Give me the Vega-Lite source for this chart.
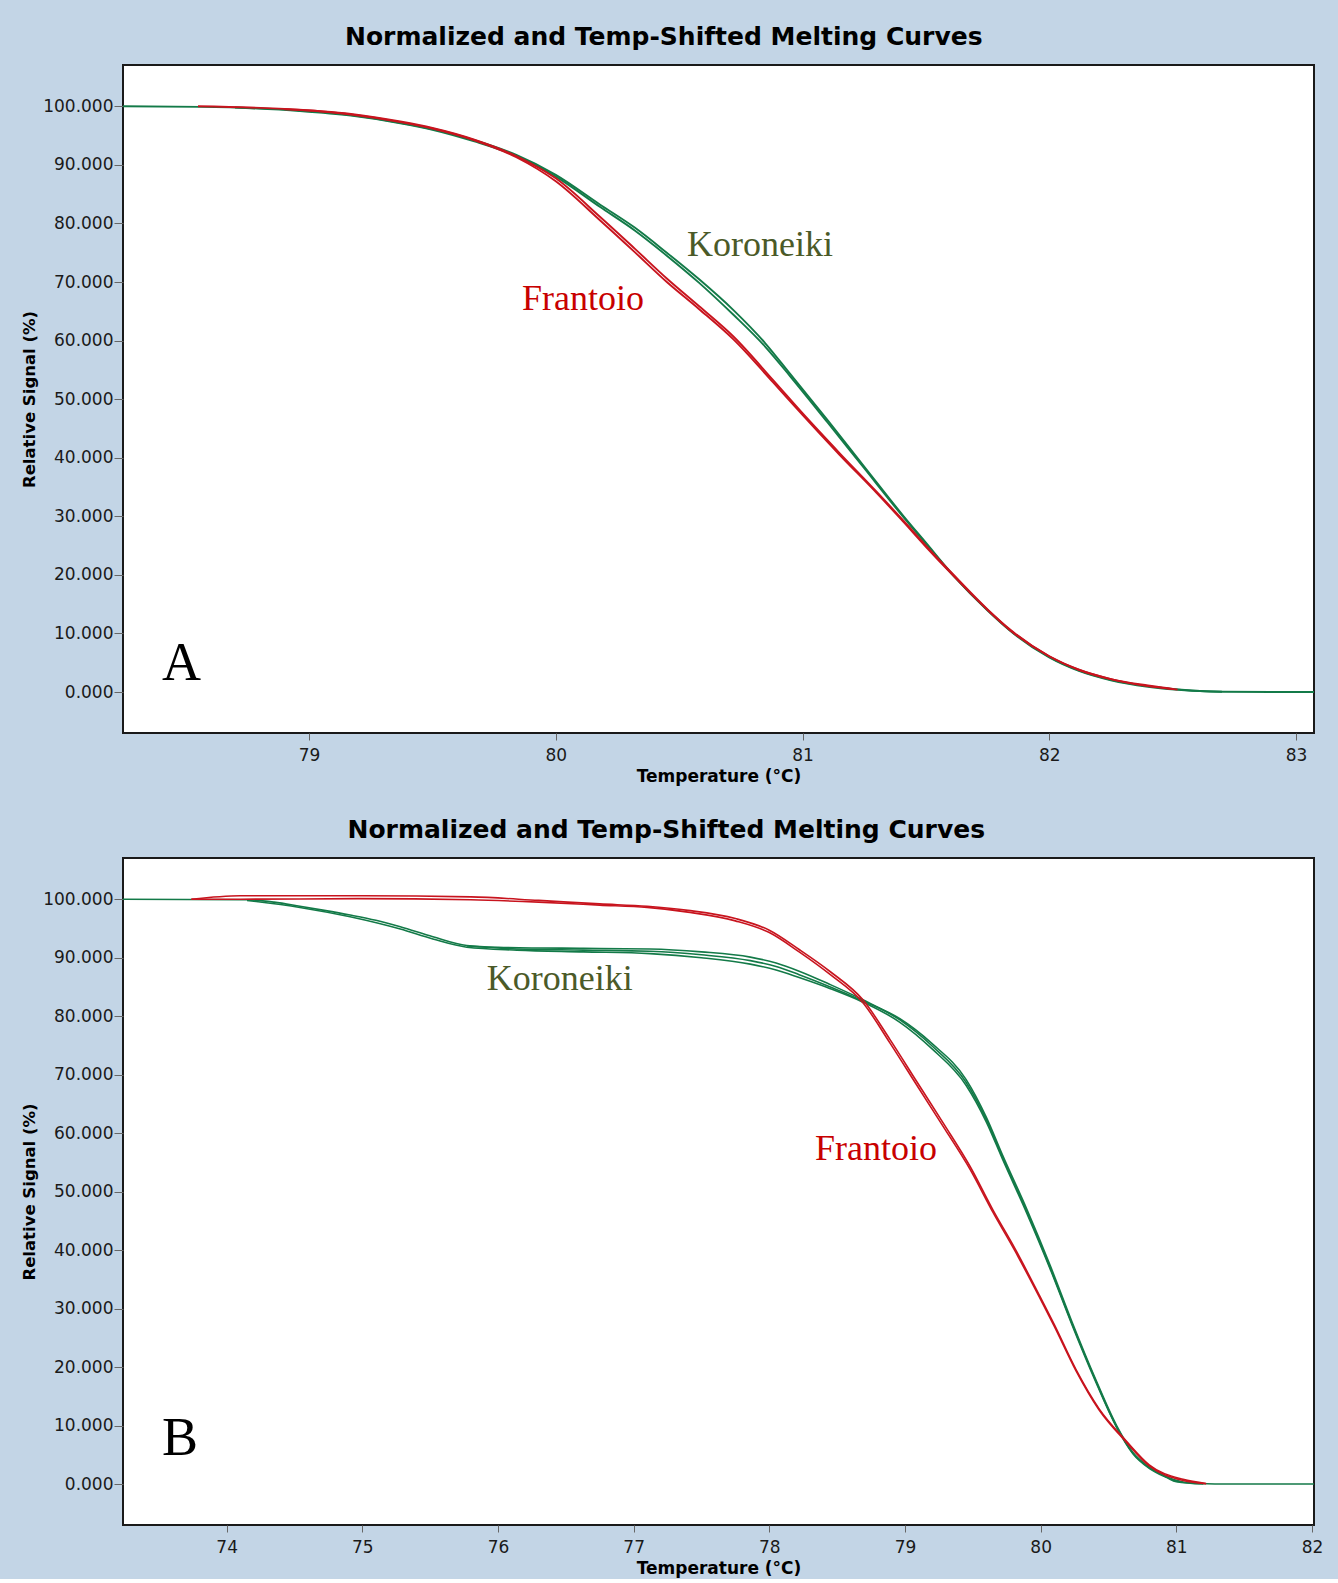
{
  "$schema": "https://vega.github.io/schema/vega-lite/v6.json",
  "background": "#c3d5e6",
  "padding": {"left": 20, "top": 24, "right": 22, "bottom": 2},
  "spacing": 32,
  "config": {
    "view": {"fill": "white", "stroke": "#1a1a1a", "strokeWidth": 2},
    "axis": {
      "labelFont": "DejaVu Sans", "labelFontSize": 17, "labelColor": "#1a1a1a",
      "titleFont": "DejaVu Sans", "titleFontWeight": "bold", "titleFontSize": 17, "titleColor": "#000000",
      "tickColor": "#666666", "tickWidth": 1, "domain": false, "grid": false
    },
    "title": {"font": "DejaVu Sans", "fontSize": 25, "fontWeight": "bold", "color": "#000000", "anchor": "middle", "frame": "bounds", "offset": 15, "dx": -6}
  },
  "datasets": {
    "a": [
      {"variety": "Koroneiki", "rep": 1, "t": 78.246, "signal": 100},
      {"variety": "Koroneiki", "rep": 1, "t": 78.56, "signal": 99.9},
      {"variety": "Koroneiki", "rep": 1, "t": 78.96, "signal": 99.3},
      {"variety": "Koroneiki", "rep": 1, "t": 79.17, "signal": 98.5},
      {"variety": "Koroneiki", "rep": 1, "t": 79.37, "signal": 97.2},
      {"variety": "Koroneiki", "rep": 1, "t": 79.5, "signal": 96.1},
      {"variety": "Koroneiki", "rep": 1, "t": 79.67, "signal": 94.2},
      {"variety": "Koroneiki", "rep": 1, "t": 79.84, "signal": 91.7},
      {"variety": "Koroneiki", "rep": 1, "t": 80.0, "signal": 88.3},
      {"variety": "Koroneiki", "rep": 1, "t": 80.18, "signal": 83.2},
      {"variety": "Koroneiki", "rep": 1, "t": 80.32, "signal": 79.3},
      {"variety": "Koroneiki", "rep": 1, "t": 80.45, "signal": 75.0},
      {"variety": "Koroneiki", "rep": 1, "t": 80.58, "signal": 70.5},
      {"variety": "Koroneiki", "rep": 1, "t": 80.72, "signal": 65.2},
      {"variety": "Koroneiki", "rep": 1, "t": 80.85, "signal": 59.5},
      {"variety": "Koroneiki", "rep": 1, "t": 80.95, "signal": 54.3},
      {"variety": "Koroneiki", "rep": 1, "t": 81.1, "signal": 46.5},
      {"variety": "Koroneiki", "rep": 1, "t": 81.25, "signal": 38.5},
      {"variety": "Koroneiki", "rep": 1, "t": 81.41, "signal": 30.0},
      {"variety": "Koroneiki", "rep": 1, "t": 81.5, "signal": 25.5},
      {"variety": "Koroneiki", "rep": 1, "t": 81.61, "signal": 20.0},
      {"variety": "Koroneiki", "rep": 1, "t": 81.75, "signal": 14.0},
      {"variety": "Koroneiki", "rep": 1, "t": 81.84, "signal": 10.6},
      {"variety": "Koroneiki", "rep": 1, "t": 82.0, "signal": 6.0},
      {"variety": "Koroneiki", "rep": 1, "t": 82.12, "signal": 3.7},
      {"variety": "Koroneiki", "rep": 1, "t": 82.25, "signal": 2.1},
      {"variety": "Koroneiki", "rep": 1, "t": 82.4, "signal": 1.0},
      {"variety": "Koroneiki", "rep": 1, "t": 82.55, "signal": 0.35},
      {"variety": "Koroneiki", "rep": 1, "t": 82.7, "signal": 0.05},
      {"variety": "Koroneiki", "rep": 1, "t": 82.9, "signal": 0},
      {"variety": "Koroneiki", "rep": 1, "t": 83.073, "signal": 0},
      {"variety": "Koroneiki", "rep": 2, "t": 78.7, "signal": 99.8},
      {"variety": "Koroneiki", "rep": 2, "t": 78.96, "signal": 99.2},
      {"variety": "Koroneiki", "rep": 2, "t": 79.17, "signal": 98.4},
      {"variety": "Koroneiki", "rep": 2, "t": 79.37, "signal": 97.1},
      {"variety": "Koroneiki", "rep": 2, "t": 79.5, "signal": 96.0},
      {"variety": "Koroneiki", "rep": 2, "t": 79.67, "signal": 94.0},
      {"variety": "Koroneiki", "rep": 2, "t": 79.84, "signal": 91.5},
      {"variety": "Koroneiki", "rep": 2, "t": 80.0, "signal": 88.0},
      {"variety": "Koroneiki", "rep": 2, "t": 80.18, "signal": 82.8},
      {"variety": "Koroneiki", "rep": 2, "t": 80.32, "signal": 78.8},
      {"variety": "Koroneiki", "rep": 2, "t": 80.45, "signal": 74.5},
      {"variety": "Koroneiki", "rep": 2, "t": 80.58, "signal": 69.9},
      {"variety": "Koroneiki", "rep": 2, "t": 80.72, "signal": 64.4},
      {"variety": "Koroneiki", "rep": 2, "t": 80.85, "signal": 58.9},
      {"variety": "Koroneiki", "rep": 2, "t": 80.95, "signal": 53.9},
      {"variety": "Koroneiki", "rep": 2, "t": 81.1, "signal": 46.1},
      {"variety": "Koroneiki", "rep": 2, "t": 81.25, "signal": 38.2},
      {"variety": "Koroneiki", "rep": 2, "t": 81.41, "signal": 29.8},
      {"variety": "Koroneiki", "rep": 2, "t": 81.5, "signal": 25.3},
      {"variety": "Koroneiki", "rep": 2, "t": 81.61, "signal": 19.9},
      {"variety": "Koroneiki", "rep": 2, "t": 81.75, "signal": 13.9},
      {"variety": "Koroneiki", "rep": 2, "t": 81.84, "signal": 10.5},
      {"variety": "Koroneiki", "rep": 2, "t": 82.0, "signal": 5.9},
      {"variety": "Koroneiki", "rep": 2, "t": 82.12, "signal": 3.6},
      {"variety": "Koroneiki", "rep": 2, "t": 82.25, "signal": 2.0},
      {"variety": "Koroneiki", "rep": 2, "t": 82.4, "signal": 0.9},
      {"variety": "Koroneiki", "rep": 2, "t": 82.55, "signal": 0.3},
      {"variety": "Koroneiki", "rep": 2, "t": 82.7, "signal": 0.05},
      {"variety": "Frantoio", "rep": 1, "t": 78.55, "signal": 100},
      {"variety": "Frantoio", "rep": 1, "t": 78.96, "signal": 99.4},
      {"variety": "Frantoio", "rep": 1, "t": 79.17, "signal": 98.6},
      {"variety": "Frantoio", "rep": 1, "t": 79.37, "signal": 97.3},
      {"variety": "Frantoio", "rep": 1, "t": 79.5, "signal": 96.2},
      {"variety": "Frantoio", "rep": 1, "t": 79.67, "signal": 94.2},
      {"variety": "Frantoio", "rep": 1, "t": 79.84, "signal": 91.3},
      {"variety": "Frantoio", "rep": 1, "t": 80.0, "signal": 87.2},
      {"variety": "Frantoio", "rep": 1, "t": 80.18, "signal": 80.5},
      {"variety": "Frantoio", "rep": 1, "t": 80.32, "signal": 75.1},
      {"variety": "Frantoio", "rep": 1, "t": 80.45, "signal": 70.0},
      {"variety": "Frantoio", "rep": 1, "t": 80.58, "signal": 65.4},
      {"variety": "Frantoio", "rep": 1, "t": 80.72, "signal": 60.2},
      {"variety": "Frantoio", "rep": 1, "t": 80.88, "signal": 52.9},
      {"variety": "Frantoio", "rep": 1, "t": 81.0, "signal": 47.3},
      {"variety": "Frantoio", "rep": 1, "t": 81.15, "signal": 40.5},
      {"variety": "Frantoio", "rep": 1, "t": 81.3, "signal": 34.0},
      {"variety": "Frantoio", "rep": 1, "t": 81.41, "signal": 29.0},
      {"variety": "Frantoio", "rep": 1, "t": 81.5, "signal": 24.8},
      {"variety": "Frantoio", "rep": 1, "t": 81.61, "signal": 19.9},
      {"variety": "Frantoio", "rep": 1, "t": 81.75, "signal": 14.0},
      {"variety": "Frantoio", "rep": 1, "t": 81.84, "signal": 10.6},
      {"variety": "Frantoio", "rep": 1, "t": 82.0, "signal": 6.1},
      {"variety": "Frantoio", "rep": 1, "t": 82.12, "signal": 3.8},
      {"variety": "Frantoio", "rep": 1, "t": 82.25, "signal": 2.2},
      {"variety": "Frantoio", "rep": 1, "t": 82.4, "signal": 1.1},
      {"variety": "Frantoio", "rep": 1, "t": 82.52, "signal": 0.4},
      {"variety": "Frantoio", "rep": 2, "t": 78.9, "signal": 99.5},
      {"variety": "Frantoio", "rep": 2, "t": 79.17, "signal": 98.7},
      {"variety": "Frantoio", "rep": 2, "t": 79.37, "signal": 97.4},
      {"variety": "Frantoio", "rep": 2, "t": 79.5, "signal": 96.3},
      {"variety": "Frantoio", "rep": 2, "t": 79.67, "signal": 94.3},
      {"variety": "Frantoio", "rep": 2, "t": 79.84, "signal": 91.5},
      {"variety": "Frantoio", "rep": 2, "t": 80.0, "signal": 87.7},
      {"variety": "Frantoio", "rep": 2, "t": 80.18, "signal": 81.1},
      {"variety": "Frantoio", "rep": 2, "t": 80.32, "signal": 75.7},
      {"variety": "Frantoio", "rep": 2, "t": 80.45, "signal": 70.6},
      {"variety": "Frantoio", "rep": 2, "t": 80.58, "signal": 65.9},
      {"variety": "Frantoio", "rep": 2, "t": 80.72, "signal": 60.7},
      {"variety": "Frantoio", "rep": 2, "t": 80.88, "signal": 53.3},
      {"variety": "Frantoio", "rep": 2, "t": 81.0, "signal": 47.6},
      {"variety": "Frantoio", "rep": 2, "t": 81.15, "signal": 40.8},
      {"variety": "Frantoio", "rep": 2, "t": 81.3, "signal": 34.2},
      {"variety": "Frantoio", "rep": 2, "t": 81.41, "signal": 29.2},
      {"variety": "Frantoio", "rep": 2, "t": 81.5, "signal": 25.0},
      {"variety": "Frantoio", "rep": 2, "t": 81.61, "signal": 20.1},
      {"variety": "Frantoio", "rep": 2, "t": 81.75, "signal": 14.1},
      {"variety": "Frantoio", "rep": 2, "t": 81.84, "signal": 10.7},
      {"variety": "Frantoio", "rep": 2, "t": 82.0, "signal": 6.1},
      {"variety": "Frantoio", "rep": 2, "t": 82.12, "signal": 3.8},
      {"variety": "Frantoio", "rep": 2, "t": 82.25, "signal": 2.2},
      {"variety": "Frantoio", "rep": 2, "t": 82.4, "signal": 1.0},
      {"variety": "Frantoio", "rep": 2, "t": 82.5, "signal": 0.5}
    ],
    "b": [
      {"variety": "Koroneiki", "rep": 1, "t": 73.236, "signal": 100},
      {"variety": "Koroneiki", "rep": 1, "t": 74.15, "signal": 99.9},
      {"variety": "Koroneiki", "rep": 1, "t": 74.35, "signal": 99.5},
      {"variety": "Koroneiki", "rep": 1, "t": 74.54, "signal": 98.8},
      {"variety": "Koroneiki", "rep": 1, "t": 74.72, "signal": 98.1},
      {"variety": "Koroneiki", "rep": 1, "t": 74.91, "signal": 97.3},
      {"variety": "Koroneiki", "rep": 1, "t": 75.1, "signal": 96.4},
      {"variety": "Koroneiki", "rep": 1, "t": 75.28, "signal": 95.3},
      {"variety": "Koroneiki", "rep": 1, "t": 75.52, "signal": 93.6},
      {"variety": "Koroneiki", "rep": 1, "t": 75.77, "signal": 92.1},
      {"variety": "Koroneiki", "rep": 1, "t": 76.0, "signal": 91.8},
      {"variety": "Koroneiki", "rep": 1, "t": 76.63, "signal": 91.6},
      {"variety": "Koroneiki", "rep": 1, "t": 77.12, "signal": 91.5},
      {"variety": "Koroneiki", "rep": 1, "t": 77.5, "signal": 91.0},
      {"variety": "Koroneiki", "rep": 1, "t": 77.86, "signal": 90.1},
      {"variety": "Koroneiki", "rep": 1, "t": 78.05, "signal": 89.1},
      {"variety": "Koroneiki", "rep": 1, "t": 78.22, "signal": 87.7},
      {"variety": "Koroneiki", "rep": 1, "t": 78.45, "signal": 85.4},
      {"variety": "Koroneiki", "rep": 1, "t": 78.69, "signal": 82.8},
      {"variety": "Koroneiki", "rep": 1, "t": 78.96, "signal": 79.4},
      {"variety": "Koroneiki", "rep": 1, "t": 79.2, "signal": 74.9},
      {"variety": "Koroneiki", "rep": 1, "t": 79.45, "signal": 68.7},
      {"variety": "Koroneiki", "rep": 1, "t": 79.6, "signal": 62.3},
      {"variety": "Koroneiki", "rep": 1, "t": 79.72, "signal": 55.8},
      {"variety": "Koroneiki", "rep": 1, "t": 79.9, "signal": 46.5},
      {"variety": "Koroneiki", "rep": 1, "t": 80.07, "signal": 37.0},
      {"variety": "Koroneiki", "rep": 1, "t": 80.23, "signal": 27.5},
      {"variety": "Koroneiki", "rep": 1, "t": 80.4, "signal": 18.0},
      {"variety": "Koroneiki", "rep": 1, "t": 80.56, "signal": 9.8},
      {"variety": "Koroneiki", "rep": 1, "t": 80.68, "signal": 5.3},
      {"variety": "Koroneiki", "rep": 1, "t": 80.8, "signal": 2.8},
      {"variety": "Koroneiki", "rep": 1, "t": 80.93, "signal": 1.2},
      {"variety": "Koroneiki", "rep": 1, "t": 81.0, "signal": 0.5},
      {"variety": "Koroneiki", "rep": 1, "t": 81.17, "signal": 0.1},
      {"variety": "Koroneiki", "rep": 1, "t": 81.4, "signal": 0},
      {"variety": "Koroneiki", "rep": 1, "t": 82.015, "signal": 0},
      {"variety": "Koroneiki", "rep": 2, "t": 74.15, "signal": 99.8},
      {"variety": "Koroneiki", "rep": 2, "t": 74.54, "signal": 98.6},
      {"variety": "Koroneiki", "rep": 2, "t": 74.91, "signal": 97.0},
      {"variety": "Koroneiki", "rep": 2, "t": 75.28, "signal": 94.9},
      {"variety": "Koroneiki", "rep": 2, "t": 75.52, "signal": 93.2},
      {"variety": "Koroneiki", "rep": 2, "t": 75.77, "signal": 91.8},
      {"variety": "Koroneiki", "rep": 2, "t": 76.14, "signal": 91.3},
      {"variety": "Koroneiki", "rep": 2, "t": 76.63, "signal": 91.0},
      {"variety": "Koroneiki", "rep": 2, "t": 77.12, "signal": 90.7},
      {"variety": "Koroneiki", "rep": 2, "t": 77.5, "signal": 90.0},
      {"variety": "Koroneiki", "rep": 2, "t": 77.86, "signal": 88.9},
      {"variety": "Koroneiki", "rep": 2, "t": 78.05, "signal": 87.9},
      {"variety": "Koroneiki", "rep": 2, "t": 78.22, "signal": 86.6},
      {"variety": "Koroneiki", "rep": 2, "t": 78.45, "signal": 84.7},
      {"variety": "Koroneiki", "rep": 2, "t": 78.69, "signal": 82.4},
      {"variety": "Koroneiki", "rep": 2, "t": 78.96, "signal": 79.0},
      {"variety": "Koroneiki", "rep": 2, "t": 79.2, "signal": 74.4},
      {"variety": "Koroneiki", "rep": 2, "t": 79.45, "signal": 68.2},
      {"variety": "Koroneiki", "rep": 2, "t": 79.6, "signal": 61.9},
      {"variety": "Koroneiki", "rep": 2, "t": 79.72, "signal": 55.5},
      {"variety": "Koroneiki", "rep": 2, "t": 79.9, "signal": 46.2},
      {"variety": "Koroneiki", "rep": 2, "t": 80.07, "signal": 36.8},
      {"variety": "Koroneiki", "rep": 2, "t": 80.23, "signal": 27.3},
      {"variety": "Koroneiki", "rep": 2, "t": 80.4, "signal": 17.8},
      {"variety": "Koroneiki", "rep": 2, "t": 80.56, "signal": 9.7},
      {"variety": "Koroneiki", "rep": 2, "t": 80.68, "signal": 5.2},
      {"variety": "Koroneiki", "rep": 2, "t": 80.8, "signal": 2.7},
      {"variety": "Koroneiki", "rep": 2, "t": 80.93, "signal": 1.1},
      {"variety": "Koroneiki", "rep": 2, "t": 81.0, "signal": 0.4},
      {"variety": "Koroneiki", "rep": 2, "t": 81.2, "signal": 0},
      {"variety": "Koroneiki", "rep": 3, "t": 75.77, "signal": 92.0},
      {"variety": "Koroneiki", "rep": 3, "t": 76.14, "signal": 91.5},
      {"variety": "Koroneiki", "rep": 3, "t": 76.63, "signal": 91.3},
      {"variety": "Koroneiki", "rep": 3, "t": 77.12, "signal": 91.1},
      {"variety": "Koroneiki", "rep": 3, "t": 77.5, "signal": 90.5},
      {"variety": "Koroneiki", "rep": 3, "t": 77.86, "signal": 89.5},
      {"variety": "Koroneiki", "rep": 3, "t": 78.05, "signal": 88.5},
      {"variety": "Koroneiki", "rep": 3, "t": 78.22, "signal": 87.1},
      {"variety": "Koroneiki", "rep": 3, "t": 78.45, "signal": 85.0},
      {"variety": "Koroneiki", "rep": 3, "t": 78.69, "signal": 82.6},
      {"variety": "Koroneiki", "rep": 3, "t": 78.96, "signal": 79.6},
      {"variety": "Koroneiki", "rep": 3, "t": 79.2, "signal": 75.3},
      {"variety": "Koroneiki", "rep": 3, "t": 79.45, "signal": 69.2},
      {"variety": "Koroneiki", "rep": 3, "t": 79.6, "signal": 62.7},
      {"variety": "Koroneiki", "rep": 3, "t": 79.72, "signal": 56.2},
      {"variety": "Koroneiki", "rep": 3, "t": 79.9, "signal": 46.9},
      {"variety": "Koroneiki", "rep": 3, "t": 80.07, "signal": 37.4},
      {"variety": "Koroneiki", "rep": 3, "t": 80.23, "signal": 27.8},
      {"variety": "Koroneiki", "rep": 3, "t": 80.4, "signal": 18.2},
      {"variety": "Koroneiki", "rep": 3, "t": 80.56, "signal": 10.0},
      {"variety": "Koroneiki", "rep": 3, "t": 80.68, "signal": 5.4},
      {"variety": "Koroneiki", "rep": 3, "t": 80.8, "signal": 2.9},
      {"variety": "Koroneiki", "rep": 3, "t": 80.93, "signal": 1.2},
      {"variety": "Koroneiki", "rep": 3, "t": 81.05, "signal": 0.3},
      {"variety": "Frantoio", "rep": 1, "t": 73.74, "signal": 100},
      {"variety": "Frantoio", "rep": 1, "t": 74.1, "signal": 100.6},
      {"variety": "Frantoio", "rep": 1, "t": 75.0, "signal": 100.6},
      {"variety": "Frantoio", "rep": 1, "t": 75.8, "signal": 100.4},
      {"variety": "Frantoio", "rep": 1, "t": 76.3, "signal": 99.8},
      {"variety": "Frantoio", "rep": 1, "t": 76.75, "signal": 99.2},
      {"variety": "Frantoio", "rep": 1, "t": 77.1, "signal": 98.8},
      {"variety": "Frantoio", "rep": 1, "t": 77.4, "signal": 98.1},
      {"variety": "Frantoio", "rep": 1, "t": 77.75, "signal": 96.7},
      {"variety": "Frantoio", "rep": 1, "t": 78.0, "signal": 94.7},
      {"variety": "Frantoio", "rep": 1, "t": 78.22, "signal": 91.4},
      {"variety": "Frantoio", "rep": 1, "t": 78.45, "signal": 87.6},
      {"variety": "Frantoio", "rep": 1, "t": 78.69, "signal": 82.8},
      {"variety": "Frantoio", "rep": 1, "t": 78.89, "signal": 76.0},
      {"variety": "Frantoio", "rep": 1, "t": 79.09, "signal": 68.7},
      {"variety": "Frantoio", "rep": 1, "t": 79.28, "signal": 61.8},
      {"variety": "Frantoio", "rep": 1, "t": 79.48, "signal": 54.3},
      {"variety": "Frantoio", "rep": 1, "t": 79.65, "signal": 46.8},
      {"variety": "Frantoio", "rep": 1, "t": 79.81, "signal": 40.3},
      {"variety": "Frantoio", "rep": 1, "t": 79.99, "signal": 32.3},
      {"variety": "Frantoio", "rep": 1, "t": 80.1, "signal": 27.3},
      {"variety": "Frantoio", "rep": 1, "t": 80.26, "signal": 19.6},
      {"variety": "Frantoio", "rep": 1, "t": 80.43, "signal": 12.9},
      {"variety": "Frantoio", "rep": 1, "t": 80.63, "signal": 7.4},
      {"variety": "Frantoio", "rep": 1, "t": 80.8, "signal": 3.3},
      {"variety": "Frantoio", "rep": 1, "t": 81.05, "signal": 0.8},
      {"variety": "Frantoio", "rep": 1, "t": 81.22, "signal": 0.1},
      {"variety": "Frantoio", "rep": 2, "t": 73.74, "signal": 100},
      {"variety": "Frantoio", "rep": 2, "t": 74.1, "signal": 100.0},
      {"variety": "Frantoio", "rep": 2, "t": 74.97, "signal": 100.1},
      {"variety": "Frantoio", "rep": 2, "t": 75.8, "signal": 99.9},
      {"variety": "Frantoio", "rep": 2, "t": 76.3, "signal": 99.5},
      {"variety": "Frantoio", "rep": 2, "t": 76.75, "signal": 99.0},
      {"variety": "Frantoio", "rep": 2, "t": 77.1, "signal": 98.6},
      {"variety": "Frantoio", "rep": 2, "t": 77.4, "signal": 97.8},
      {"variety": "Frantoio", "rep": 2, "t": 77.75, "signal": 96.3},
      {"variety": "Frantoio", "rep": 2, "t": 78.0, "signal": 94.3},
      {"variety": "Frantoio", "rep": 2, "t": 78.22, "signal": 91.0},
      {"variety": "Frantoio", "rep": 2, "t": 78.45, "signal": 87.1},
      {"variety": "Frantoio", "rep": 2, "t": 78.69, "signal": 82.3},
      {"variety": "Frantoio", "rep": 2, "t": 78.89, "signal": 75.4},
      {"variety": "Frantoio", "rep": 2, "t": 79.09, "signal": 68.1},
      {"variety": "Frantoio", "rep": 2, "t": 79.28, "signal": 61.2},
      {"variety": "Frantoio", "rep": 2, "t": 79.48, "signal": 53.8},
      {"variety": "Frantoio", "rep": 2, "t": 79.65, "signal": 46.4},
      {"variety": "Frantoio", "rep": 2, "t": 79.81, "signal": 39.9},
      {"variety": "Frantoio", "rep": 2, "t": 79.99, "signal": 32.0},
      {"variety": "Frantoio", "rep": 2, "t": 80.1, "signal": 27.0},
      {"variety": "Frantoio", "rep": 2, "t": 80.26, "signal": 19.4},
      {"variety": "Frantoio", "rep": 2, "t": 80.43, "signal": 12.7},
      {"variety": "Frantoio", "rep": 2, "t": 80.63, "signal": 7.2},
      {"variety": "Frantoio", "rep": 2, "t": 80.8, "signal": 3.1},
      {"variety": "Frantoio", "rep": 2, "t": 81.05, "signal": 0.6},
      {"variety": "Frantoio", "rep": 2, "t": 81.22, "signal": 0.05}
    ],
    "labA": [
      {"kind": "letter", "t": 78.404, "signal": 2.0, "text": "A"},
      {"kind": "Koroneiki", "t": 80.532, "signal": 74.4, "text": "Koroneiki"},
      {"kind": "Frantoio", "t": 79.863, "signal": 65.2, "text": "Frantoio"}
    ],
    "labB": [
      {"kind": "letter", "t": 73.523, "signal": 5.0, "text": "B"},
      {"kind": "Koroneiki", "t": 75.918, "signal": 84.45, "text": "Koroneiki"},
      {"kind": "Frantoio", "t": 78.336, "signal": 55.4, "text": "Frantoio"}
    ]
  },
  "vconcat": [
    {
      "title": "Normalized and Temp-Shifted Melting Curves",
      "width": 1191,
      "height": 668,
      "layer": [
        {
          "data": {"name": "a"},
          "mark": {"type": "line", "strokeWidth": 1.9, "interpolate": "monotone"},
          "encoding": {
            "x": {"field": "t", "type": "quantitative", "scale": {"domain": [78.246, 83.073], "nice": false, "zero": false},
              "axis": {"title": "Temperature (°C)", "values": [79, 80, 81, 82, 83], "format": "d", "tickSize": 7, "labelPadding": 7, "titlePadding": 5}},
            "y": {"field": "signal", "type": "quantitative", "scale": {"domain": [-7, 107.05], "nice": false, "zero": false},
              "axis": {"title": "Relative Signal (%)", "titleFontSize": 16.5, "titlePadding": 5,
                "values": [0, 2.5, 5, 7.5, 10, 12.5, 15, 17.5, 20, 22.5, 25, 27.5, 30, 32.5, 35, 37.5, 40, 42.5, 45, 47.5, 50, 52.5, 55, 57.5, 60, 62.5, 65, 67.5, 70, 72.5, 75, 77.5, 80, 82.5, 85, 87.5, 90, 92.5, 95, 97.5, 100],
                "labelExpr": "datum.value % 10 === 0 ? format(datum.value, '.3f') : ''",
                "tickSize": {"condition": {"test": "datum.value % 10 === 0", "value": 9}, "value": 5},
                "labelPadding": 1}},
            "detail": {"field": "rep", "type": "nominal"},
            "color": {"field": "variety", "type": "nominal", "scale": {"domain": ["Frantoio", "Koroneiki", "letter"], "range": ["#c8141e", "#137a48", "#000000"]}, "legend": null},
            "order": {"field": "t", "type": "quantitative"}
          }
        },
        {
          "data": {"name": "labA"},
          "transform": [{"filter": "datum.kind === 'letter'"}],
          "mark": {"type": "text", "font": "Liberation Serif", "fontSize": 54, "align": "left", "baseline": "alphabetic", "color": "#000000"},
          "encoding": {
            "x": {"field": "t", "type": "quantitative"},
            "y": {"field": "signal", "type": "quantitative"},
            "text": {"field": "text"}
          }
        },
        {
          "data": {"name": "labA"},
          "transform": [{"filter": "datum.kind !== 'letter'"}],
          "mark": {"type": "text", "font": "Liberation Serif", "fontSize": 36, "align": "left", "baseline": "alphabetic"},
          "encoding": {
            "x": {"field": "t", "type": "quantitative"},
            "y": {"field": "signal", "type": "quantitative"},
            "text": {"field": "text"},
            "color": {"field": "kind", "type": "nominal", "scale": {"domain": ["Frantoio", "Koroneiki", "letter"], "range": ["#c80000", "#4b5a28", "#000000"]}, "legend": null}
          }
        }
      ],
      "resolve": {"scale": {"color": "independent"}}
    },
    {
      "title": "Normalized and Temp-Shifted Melting Curves",
      "width": 1191,
      "height": 667,
      "layer": [
        {
          "data": {"name": "b"},
          "mark": {"type": "line", "strokeWidth": 1.6, "interpolate": "monotone"},
          "encoding": {
            "x": {"field": "t", "type": "quantitative", "scale": {"domain": [73.236, 82.015], "nice": false, "zero": false},
              "axis": {"title": "Temperature (°C)", "values": [74, 75, 76, 77, 78, 79, 80, 81, 82], "format": "d", "tickSize": 7, "labelPadding": 7, "titlePadding": 5}},
            "y": {"field": "signal", "type": "quantitative", "scale": {"domain": [-7, 107.05], "nice": false, "zero": false},
              "axis": {"title": "Relative Signal (%)", "titleFontSize": 16.5, "titlePadding": 5,
                "values": [0, 2.5, 5, 7.5, 10, 12.5, 15, 17.5, 20, 22.5, 25, 27.5, 30, 32.5, 35, 37.5, 40, 42.5, 45, 47.5, 50, 52.5, 55, 57.5, 60, 62.5, 65, 67.5, 70, 72.5, 75, 77.5, 80, 82.5, 85, 87.5, 90, 92.5, 95, 97.5, 100],
                "labelExpr": "datum.value % 10 === 0 ? format(datum.value, '.3f') : ''",
                "tickSize": {"condition": {"test": "datum.value % 10 === 0", "value": 9}, "value": 5},
                "labelPadding": 1}},
            "detail": {"field": "rep", "type": "nominal"},
            "color": {"field": "variety", "type": "nominal", "scale": {"domain": ["Frantoio", "Koroneiki", "letter"], "range": ["#c8141e", "#137a48", "#000000"]}, "legend": null},
            "order": {"field": "t", "type": "quantitative"}
          }
        },
        {
          "data": {"name": "labB"},
          "transform": [{"filter": "datum.kind === 'letter'"}],
          "mark": {"type": "text", "font": "Liberation Serif", "fontSize": 54, "align": "left", "baseline": "alphabetic", "color": "#000000"},
          "encoding": {
            "x": {"field": "t", "type": "quantitative"},
            "y": {"field": "signal", "type": "quantitative"},
            "text": {"field": "text"}
          }
        },
        {
          "data": {"name": "labB"},
          "transform": [{"filter": "datum.kind !== 'letter'"}],
          "mark": {"type": "text", "font": "Liberation Serif", "fontSize": 36, "align": "left", "baseline": "alphabetic"},
          "encoding": {
            "x": {"field": "t", "type": "quantitative"},
            "y": {"field": "signal", "type": "quantitative"},
            "text": {"field": "text"},
            "color": {"field": "kind", "type": "nominal", "scale": {"domain": ["Frantoio", "Koroneiki", "letter"], "range": ["#c80000", "#4b5a28", "#000000"]}, "legend": null}
          }
        }
      ],
      "resolve": {"scale": {"color": "independent"}}
    }
  ]
}
